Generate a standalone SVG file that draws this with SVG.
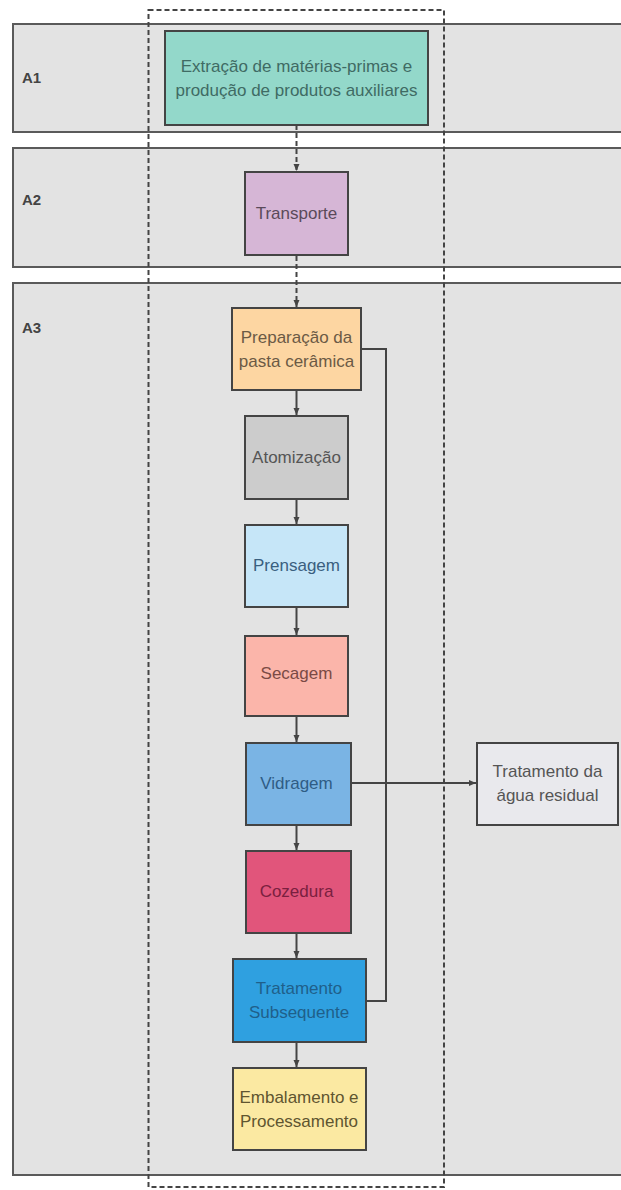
<svg xmlns="http://www.w3.org/2000/svg" width="621" height="1190" viewBox="0 0 621 1190">
<style>
.lane{fill:#e3e3e3;stroke:#5a5a5a;stroke-width:2}
.lbl{font-family:"Liberation Sans",Arial,sans-serif;font-size:15px;font-weight:bold;fill:#444}
.box{stroke:#444;stroke-width:2}
.t{font-family:"Liberation Sans",Arial,sans-serif;font-size:17px;text-anchor:middle;dominant-baseline:central}
.c{fill:none;stroke:#444;stroke-width:2}
.d{fill:none;stroke:#444;stroke-width:2;stroke-dasharray:5 3}
</style>
<defs>
<marker id="ah" markerWidth="8" markerHeight="8" refX="7" refY="4" orient="auto" markerUnits="userSpaceOnUse">
<path d="M0,1 L7,4 L0,7 Z" fill="#444"/>
</marker>
</defs>
<rect width="621" height="1190" fill="#ffffff"/>
<g id="lanes">
<g id="laneA1"><rect class="lane" x="13" y="24" width="620" height="108"/><text class="lbl" x="22" y="83">A1</text></g>
<g id="laneA2"><rect class="lane" x="13" y="148" width="620" height="119"/><text class="lbl" x="22" y="205">A2</text></g>
<g id="laneA3"><rect class="lane" x="13" y="283" width="620" height="892"/><text class="lbl" x="22" y="333">A3</text></g>
</g>
<g id="boundary"><rect x="148.5" y="10" width="295.5" height="1177" fill="none" stroke="#444" stroke-width="2" stroke-dasharray="5 3"/></g>
<g id="connectors">
<line class="d" x1="296.5" y1="125" x2="296.5" y2="171" marker-end="url(#ah)"/>
<line class="d" x1="296.5" y1="256" x2="296.5" y2="307" marker-end="url(#ah)"/>
<line class="c" x1="296.5" y1="391" x2="296.5" y2="415" marker-end="url(#ah)"/>
<line class="c" x1="296.5" y1="500" x2="296.5" y2="524" marker-end="url(#ah)"/>
<line class="c" x1="296.5" y1="608" x2="296.5" y2="635" marker-end="url(#ah)"/>
<line class="c" x1="296.5" y1="717" x2="296.5" y2="742" marker-end="url(#ah)"/>
<line class="c" x1="296.5" y1="826" x2="296.5" y2="850" marker-end="url(#ah)"/>
<line class="c" x1="296.5" y1="934" x2="296.5" y2="958" marker-end="url(#ah)"/>
<line class="c" x1="296.5" y1="1043" x2="296.5" y2="1067" marker-end="url(#ah)"/>
<polyline class="c" points="361,349 386,349 386,1001 366,1001"/>
<line class="c" x1="352" y1="783" x2="476" y2="783" marker-end="url(#ah)"/>
</g>
<g id="n1"><rect class="box" x="165" y="31" width="263" height="94" fill="#93d8ca"/><text class="t" fill="#3f6b64"><tspan x="296.5" y="66">Extração de matérias-primas e</tspan><tspan x="296.5" y="90">produção de produtos auxiliares</tspan></text></g>
<g id="n2"><rect class="box" x="245" y="172" width="103" height="83" fill="#d6b6d6"/><text class="t" x="296.5" y="213" fill="#5a4a5a">Transporte</text></g>
<g id="n3"><rect class="box" x="232" y="308" width="129" height="82" fill="#fdd6a2"/><text class="t" fill="#6b5a45"><tspan x="296.5" y="337">Preparação da</tspan><tspan x="296.5" y="361">pasta cerâmica</tspan></text></g>
<g id="n4"><rect class="box" x="245" y="416" width="103" height="83" fill="#cccccc"/><text class="t" x="296.5" y="457" fill="#555">Atomização</text></g>
<g id="n5"><rect class="box" x="245" y="525" width="103" height="82" fill="#c6e6f8"/><text class="t" x="296.5" y="565" fill="#3a5f7f">Prensagem</text></g>
<g id="n6"><rect class="box" x="245" y="636" width="103" height="80" fill="#fbb5aa"/><text class="t" x="296.5" y="673" fill="#7a4a45">Secagem</text></g>
<g id="n7"><rect class="box" x="246" y="743" width="105" height="82" fill="#7ab4e4"/><text class="t" x="296.5" y="783" fill="#2f5c85">Vidragem</text></g>
<g id="n8"><rect class="box" x="246" y="851" width="105" height="82" fill="#e1557b"/><text class="t" x="296.5" y="891" fill="#7a2040">Cozedura</text></g>
<g id="n9"><rect class="box" x="233" y="959" width="133" height="83" fill="#2fa0e0"/><text class="t" fill="#1f5f8a"><tspan x="299" y="988">Tratamento</tspan><tspan x="299" y="1012">Subsequente</tspan></text></g>
<g id="n10"><rect class="box" x="233" y="1068" width="133" height="82" fill="#fbe9a2"/><text class="t" fill="#5f5530"><tspan x="299" y="1097">Embalamento e</tspan><tspan x="299" y="1121">Processamento</tspan></text></g>
<g id="n11"><rect class="box" x="477" y="743" width="141" height="82" fill="#e9e9ed"/><text class="t" fill="#555"><tspan x="547.5" y="771">Tratamento da</tspan><tspan x="547.5" y="795">água residual</tspan></text></g>
</svg>
